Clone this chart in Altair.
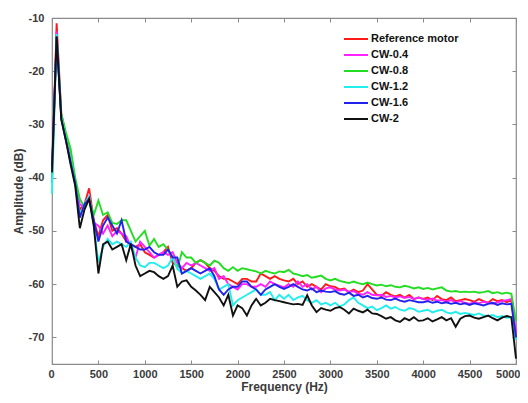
import altair as alt
import pandas as pd

freqs = list(range(0, 5001, 50))

series_names = ["Reference motor", "CW-0.4", "CW-0.8", "CW-1.2", "CW-1.6", "CW-2"]
series_colors = ["#ff1a1a", "#ff22ff", "#22dd22", "#22eeee", "#2222ee", "#111111"]

red = [-40, -11, -28, -32, -36, -40.5, -46, -45, -42, -48,
       -51, -48, -47, -50, -49.5, -50.5, -52, -52.5, -53, -52.5,
       -54, -54.5, -55, -54.5, -54, -53, -56, -56.5, -57, -57.5,
       -57, -56, -55.5, -56, -57, -57.5, -58.5, -59, -59, -59.5,
       -60, -59, -59, -59.5, -59.5, -58, -58.5, -59, -58.5, -59,
       -59.3, -59.5, -59, -60, -59.5, -60.5, -60, -60.5, -61, -60,
       -60.4, -60.5, -61, -60.8, -61.5, -61, -61.5, -61.2, -60, -61,
       -62, -62.2, -61.5, -62, -62.3, -62, -62.5, -62, -62.8, -62.5,
       -62.75, -62.5, -63, -62.2, -62.8, -63, -62.5, -63.2, -63, -62.8,
       -63, -63.3, -62.8, -63.2, -63.5, -62.8, -63.2, -63, -63.4, -63,
       -70]
magenta = [-40, -12.5, -28.5, -32.5, -36, -41, -45, -45.5, -43.5, -48.5,
           -49, -50.5, -49, -51, -50, -50.5, -51, -53, -55, -52,
           -53, -54, -55, -54.5, -54, -54.5, -54, -56, -57, -56,
           -56.5, -56, -56.5, -57, -57.5, -57, -59, -58.5, -60, -60.5,
           -61, -60, -60, -60.5, -60.5, -60, -60.5, -59.5, -60, -60.3,
           -60.6, -60, -60.5, -59.5, -60.5, -60, -61, -60.5, -61.5, -60.8,
           -60.6, -61, -61.2, -61, -61.5, -61.3, -61.8, -62, -61.5, -62,
           -62.1, -62, -62.4, -62.2, -62.5, -62.3, -62.6, -62.4, -62.8, -62.5,
           -62.8, -63, -62.7, -63.1, -63, -63.3, -63, -63.4, -63.2, -63.5,
           -63.7, -63.4, -63.6, -63.3, -63.5, -63.7, -63.4, -63.2, -63, -62.8,
           -69]
green = [-41, -13, -28, -31.5, -34.5, -40, -44, -45.5, -44, -47,
         -44.3, -47, -46.5, -48.5, -48.7, -48, -48, -50, -52, -51,
         -50, -52.75, -51.5, -53, -52.5, -53.5, -55, -57, -54, -55,
         -55, -56, -55.5, -56, -56.5, -55.6, -56, -57, -57.5, -56.8,
         -57.5, -57, -57.2, -57.4, -57.6, -58, -57.5, -57.8, -58, -57.6,
         -57.75, -57.3, -58, -58.2, -58.5, -58.3, -58.8, -58.6, -58.4, -59,
         -59.3, -59, -59.4, -59.6, -59.8, -59.5, -59.8, -60, -59.7, -60,
         -60.25, -60.1, -60.4, -60.2, -60.5, -60.6, -60.3, -60.5, -60.8, -60.6,
         -60.9, -60.7, -61, -60.8, -60.6, -61.2, -61.4, -61.3, -61.5, -61.4,
         -61.5, -61.4, -61.6, -61.5, -61.3, -61.7, -61.5, -61.8, -61.6, -61.8,
         -67]
cyan = [-43, -13, -28.5, -32.5, -36.5, -41, -47, -45, -43.5, -49,
        -55.9, -53, -51.5, -52.5, -52, -52.5, -53, -52, -55, -56.5,
        -56.8, -56, -56, -56.5, -57, -56.5, -55, -57, -58, -57.5,
        -58, -58.5, -59, -58.5, -58, -59, -61, -60.5, -60, -64,
        -63, -62.5, -62, -61.5, -61, -62, -62, -61.5, -63, -62,
        -62.75, -62, -63, -62.5, -62.2, -63, -63.5, -63, -63.8, -63.5,
        -64, -63.5, -64.2, -63.8, -63, -62.5, -63.5, -64, -64.5, -64.2,
        -64.9, -64.5, -64, -64.6, -64.3, -64.8, -65, -64.5, -64.7, -65.2,
        -65, -64.8, -65.3, -65, -64.8, -65.3, -65.5, -65.2, -65.6, -65.4,
        -65.6, -65.8, -65.5, -65.9, -66, -65.8, -66.2, -66, -66.3, -66.2,
        -70.5]
blue = [-38, -13.5, -29, -33, -37, -41, -47.5, -45, -44, -48,
        -52, -49, -47.5, -49, -50.5, -48, -52, -52.5, -53, -53.5,
        -53.5, -53, -54, -54.5, -54.5, -53.5, -55, -55, -58, -57.5,
        -57, -57.5, -58, -57.5, -57, -58.5, -61, -62, -61, -60.5,
        -60.5, -59.5, -59.5, -60.5, -61, -62, -61, -60.5, -60, -60.5,
        -60.9, -60.5, -60, -60.5, -61, -61.2, -60.8, -61.5, -61.2, -61.4,
        -61.5, -61.3, -61.8, -62, -61.6, -62.2, -62, -62.5, -62.2, -62.6,
        -62.75, -62.5, -62.9, -63, -62.7, -63.1, -63.3, -63, -63.2, -63.4,
        -63.4, -63.2, -63.5, -63.3, -63.6, -63.4, -63.7, -63.5, -63.8, -63.6,
        -63.9, -63.6, -63.8, -64, -63.7, -63.5, -63.9, -63.6, -63.8, -63.7,
        -70]
black = [-39, -13.5, -29, -33, -37.5, -41.5, -49.5, -46, -44, -49,
         -58, -52.5, -52, -53.5, -53, -52.5, -55.5, -52.4, -56.5, -58.5,
         -58, -57.5, -57.75, -58.5, -59, -58.5, -56.5, -60.5, -59.5, -59.3,
         -60.5, -61.2, -62, -63, -60.5, -61.5, -62.5, -64, -62, -65.9,
         -64, -64.5, -65.9, -64, -62.75, -64, -63.5, -62.75, -63, -63.2,
         -63.4, -63.6, -63.8, -63.7, -63.9, -62.1, -64, -65.25, -64.5, -64.8,
         -65, -64.5, -64.3, -64.8, -65.5, -64.6, -65, -65.3, -64.8, -65.5,
         -65.6, -66, -66.5, -66.2, -66.8, -67.1, -66.4, -66.8, -66.2, -66.9,
         -66.8, -66.4, -67, -66.6, -66.2, -66.8, -66.4, -68, -66.5, -66,
         -65.9, -66.3, -66.5, -66.2, -65.9, -66.4, -66.8, -66.3, -66, -66.2,
         -74]

x_ticks = list(range(0, 5001, 500))
y_ticks = [-70, -60, -50, -40, -30, -20, -10]

all_series = [red, magenta, green, cyan, blue, black]
rows = []
for order, (name, vals) in enumerate(zip(series_names, all_series)):
    for f, v in zip(freqs, vals):
        rows.append({"Frequency": f, "Amplitude": v, "Series": name, "order": order})
df = pd.DataFrame(rows)

FONT = "Liberation Sans"
GRAY = "#8a8a8a"
LABEL = "#3a3a3a"
PLAIN = "'' + datum.value"

xscale = alt.Scale(domain=[0, 5000], nice=False, zero=False)
yscale = alt.Scale(domain=[-75, -10], nice=False, zero=False)

lines = alt.Chart(df).mark_line(strokeWidth=1.9).encode(
    x=alt.X("Frequency:Q", scale=xscale,
            axis=alt.Axis(values=x_ticks, title="Frequency (Hz)", grid=False,
                          domain=False, offset=-4, tickSize=4, tickColor=GRAY,
                          labelPadding=4, labelFont=FONT, labelFontSize=11,
                          labelFontWeight="bold", labelColor=LABEL, labelExpr=PLAIN,
                          titleFont=FONT, titleFontSize=12, titleFontWeight="bold",
                          titleColor=LABEL, titlePadding=2,
                          labelFlush=True, labelFlushOffset=4)),
    y=alt.Y("Amplitude:Q", scale=yscale,
            axis=alt.Axis(values=y_ticks, title="Amplitude (dB)", grid=False,
                          domain=False, offset=-4, tickSize=4, tickColor=GRAY,
                          labelPadding=8, labelFont=FONT, labelFontSize=11,
                          labelFontWeight="bold", labelColor=LABEL, labelExpr=PLAIN,
                          titleFont=FONT, titleFontSize=12, titleFontWeight="bold",
                          titleColor=LABEL, titlePadding=3, labelFlush=False)),
    color=alt.Color("Series:N",
                    scale=alt.Scale(domain=series_names, range=series_colors),
                    sort=series_names,
                    legend=alt.Legend(title=None, orient="none", legendX=295, legendY=12,
                                      symbolType="M-1.5,0L1.5,0", symbolSize=256,
                                      symbolStrokeWidth=2, labelFont=FONT,
                                      labelFontSize=11, labelFontWeight="bold",
                                      labelColor="#111111", rowPadding=2,
                                      labelOffset=6, padding=0)),
    order=alt.Order("order:Q"),
    detail="Series:N",
)

frame_ticks = alt.Chart(df).mark_line(strokeOpacity=0).encode(
    x=alt.X("Frequency:Q", scale=xscale,
            axis=alt.Axis(values=x_ticks, orient="top", labels=False, title=None,
                          domain=False, grid=False, offset=-4, tickSize=4,
                          tickColor=GRAY)),
    y=alt.Y("Amplitude:Q", scale=yscale,
            axis=alt.Axis(values=y_ticks, orient="right", labels=False, title=None,
                          domain=False, grid=False, offset=-4, tickSize=4,
                          tickColor=GRAY)),
    detail="Series:N",
)

chart = alt.layer(lines, frame_ticks).resolve_scale(
    x="independent", y="independent"
).properties(
    width=464, height=346,
    autosize="none",
    padding={"left": 44, "top": 10, "right": 4, "bottom": 31},
).configure_view(stroke=GRAY, strokeWidth=1.2)

chart.save("out.html", embed_options={"renderer": "svg", "actions": False})
